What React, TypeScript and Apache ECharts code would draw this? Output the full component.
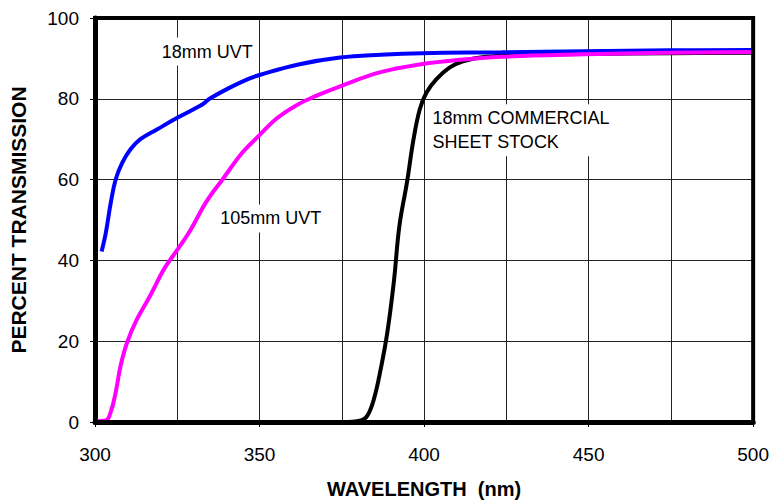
import React, { useEffect, useRef } from "react";
import * as echarts from "echarts";

const xTicks = [300, 350, 400, 450, 500];
const yTicks = [0, 20, 40, 60, 80, 100];

const uvt18Nm = [302, 303.3, 304.8, 306.3, 308.3, 310.8, 313.8, 318.8, 325, 331.8, 333.3, 334.8, 340.8, 346.8, 350, 361.8, 374.5, 386.8, 399.5, 423.7, 448.7, 475, 500];
const uvt18Pct = [42.2, 46.9, 54.3, 60.1, 64.2, 67.5, 70, 72.4, 75.3, 78.2, 79, 80, 82.7, 85, 85.9, 88.5, 90.2, 90.9, 91.3, 91.5, 91.8, 92, 92.1];

const uvt105Nm = [300, 303.3, 304.8, 306.3, 307.8, 309.8, 312.8, 316.8, 321, 325, 328.8, 333.8, 338.8, 344.8, 350, 355, 361, 366.8, 374.5, 386.8, 399.5, 410, 423.7, 448.7, 473.6, 500];
const uvt105Pct = [0.2, 0.4, 2.5, 7.4, 14, 19.8, 25.5, 31.3, 37.9, 42.6, 47.2, 54.5, 60.1, 66.7, 71, 75, 78.3, 80.6, 83.1, 86.6, 88.6, 89.6, 90.4, 91, 91.4, 91.6];

const sheetNm = [375, 380.8, 382.8, 384.8, 386.8, 388.8, 390.8, 392.5, 394.8, 396.8, 398.7, 400.7, 403.7, 407.7, 411.8, 418.7, 430, 450, 475, 500];
const sheetPct = [0, 0.4, 1.6, 5.8, 13, 22, 34.6, 48.5, 59.3, 70, 77.4, 81.5, 84.8, 87.7, 89.3, 90.4, 90.8, 91.1, 91.3, 91.4];

const labels = [
  { text: "18mm UVT", at: [319.2, 91.7] },
  { text: "105mm UVT", at: [337, 50.4] },
  { text: "18mm COMMERCIAL\nSHEET STOCK", at: [401.5, 72.2] },
];

const FONT = "'Liberation Sans', Arial, sans-serif";

const pairs = (xs: number[], ys: number[]) => xs.map((x, i) => [x, ys[i]]);

export default function App() {
  const ref = useRef<HTMLDivElement>(null);
  useEffect(() => {
    if (!ref.current) return;
    const chart = echarts.init(ref.current, null, { renderer: "svg" });
    const labelPoint = (l: { text: string; at: number[] }) => ({
      coord: l.at,
      symbol: "rect",
      symbolSize: 1,
      itemStyle: { color: "rgba(0,0,0,0)" },
      label: {
        show: true,
        formatter: l.text,
        position: "right",
        distance: 0,
        align: "left",
        verticalAlign: "middle",
        color: "#000",
        fontFamily: FONT,
        fontSize: 18,
        lineHeight: 24,
        backgroundColor: "#fff",
        padding: [2, 3, 2, 3],
      },
    });
    const line = (name: string, data: number[][], color: string, lbl: any) => ({
      name,
      type: "line",
      data,
      smooth: 0.4,
      showSymbol: false,
      symbol: "none",
      lineStyle: { color, width: 4 },
      markPoint: { silent: true, data: [labelPoint(lbl)] },
      z: 3,
    });
    chart.setOption({
      animation: false,
      backgroundColor: "#fff",
      grid: { left: 94, right: 17, top: 18, bottom: 80, show: true, borderColor: "#000", borderWidth: 4, z: 4 },
      xAxis: {
        type: "value",
        min: xTicks[0],
        max: xTicks[xTicks.length - 1],
        interval: 50,
        name: "WAVELENGTH  (nm)",
        nameLocation: "middle",
        nameGap: 57,
        nameTextStyle: { fontFamily: FONT, fontSize: 20, fontWeight: "bold", color: "#000" },
        axisLine: { show: true, onZero: false, lineStyle: { color: "#000", width: 5 } },
        axisTick: { show: true, length: 5, lineStyle: { color: "#000", width: 1 } },
        axisLabel: { margin: 23, fontFamily: FONT, fontSize: 19, color: "#000" },
        splitLine: { show: true, lineStyle: { color: "#222", width: 1 } },
        minorTick: { show: false, splitNumber: 2 },
        minorSplitLine: { show: true, lineStyle: { color: "#222", width: 1 } },
      },
      yAxis: {
        type: "value",
        min: yTicks[0],
        max: yTicks[yTicks.length - 1],
        interval: 20,
        name: "PERCENT TRANSMISSION",
        nameLocation: "middle",
        nameGap: 66,
        nameTextStyle: { fontFamily: FONT, fontSize: 21, fontWeight: "bold", color: "#000" },
        axisLine: { show: true, lineStyle: { color: "#000", width: 5 } },
        axisTick: { show: true, length: 5, lineStyle: { color: "#000", width: 1 } },
        axisLabel: { margin: 16, fontFamily: FONT, fontSize: 19, color: "#000" },
        splitLine: { show: true, lineStyle: { color: "#222", width: 1 } },
      },
      series: [
        line("18mm COMMERCIAL SHEET STOCK", pairs(sheetNm, sheetPct), "#000000", labels[2]),
        line("18mm UVT", pairs(uvt18Nm, uvt18Pct), "#0000ff", labels[0]),
        line("105mm UVT", pairs(uvt105Nm, uvt105Pct), "#ff00ff", labels[1]),
      ],
    });
    return () => chart.dispose();
  }, []);
  return <div ref={ref} style={{ position: "fixed", left: 0, top: 0, width: 772, height: 504 }} />;
}
